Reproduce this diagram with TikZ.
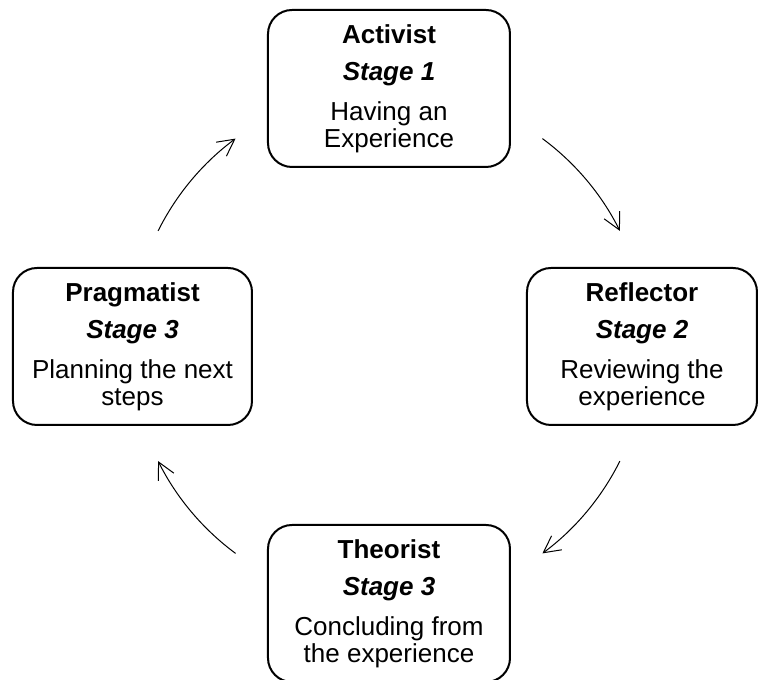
\documentclass[tikz,border=0pt]{standalone}
\usepackage{fontspec}
\setmainfont{Liberation Sans}
\usetikzlibrary{arrows.meta}
\tikzset{
  stagebox/.style={draw, line width=1.5pt, rounded corners=18pt, align=center,
    inner sep=0pt, minimum height=117.75pt, font=\fontsize{19.5}{20}\selectfont},
  cyclearrow/.style={line width=0.75pt, -{Straight Barb[length=12.5pt,width=13pt]}}
}
\begin{document}
\begin{tikzpicture}[x=0.75pt,y=0.75pt]
                \useasboundingbox (-389,-334) rectangle (369,346);
                \coordinate (hub) at (0,0);
                
                % Stage boxes
                \node[stagebox, minimum width=181.5pt] (activist) at (0,257.5)
                  {\textbf{Activist}\\[7.75pt]\textbf{\textit{Stage 1}}\\[10pt]Having an\\Experience};
                \node[stagebox, minimum width=172.5pt] (reflector) at (253,-0.5)
                  {\textbf{Reflector}\\[7.75pt]\textbf{\textit{Stage 2}}\\[10pt]Reviewing the\\experience};
                \node[stagebox, minimum width=181.5pt] (theorist) at (0,-257.5)
                  {\textbf{Theorist}\\[7.75pt]\textbf{\textit{Stage 3}}\\[10pt]Concluding from\\the experience};
                \node[stagebox, minimum width=179.25pt] (pragmatist) at (-256.5,-0.5)
                  {\textbf{Pragmatist}\\[7.75pt]\textbf{\textit{Stage 3}}\\[10pt]Planning the next\\steps};
                
                % Arrow from Activist to Reflector
                \path (hub) ++(53.5:258) coordinate (act-out);
                \draw[cyclearrow] (act-out) arc[start angle=53.5, end angle=26.5, radius=258];
                
                % Arrow from Reflector to Theorist
                \path (hub) ++(-26.5:258) coordinate (ref-out);
                \draw[cyclearrow] (ref-out) arc[start angle=-26.5, end angle=-53.5, radius=258];
                
                % Arrow from Theorist to Pragmatist
                \path (hub) ++(-126.5:258) coordinate (the-out);
                \draw[cyclearrow] (the-out) arc[start angle=-126.5, end angle=-153.5, radius=258];
                
                % Arrow from Pragmatist to Activist
                \path (hub) ++(153.5:258) coordinate (pra-out);
                \draw[cyclearrow] (pra-out) arc[start angle=153.5, end angle=126.5, radius=258];
            \end{tikzpicture}
\end{document}
